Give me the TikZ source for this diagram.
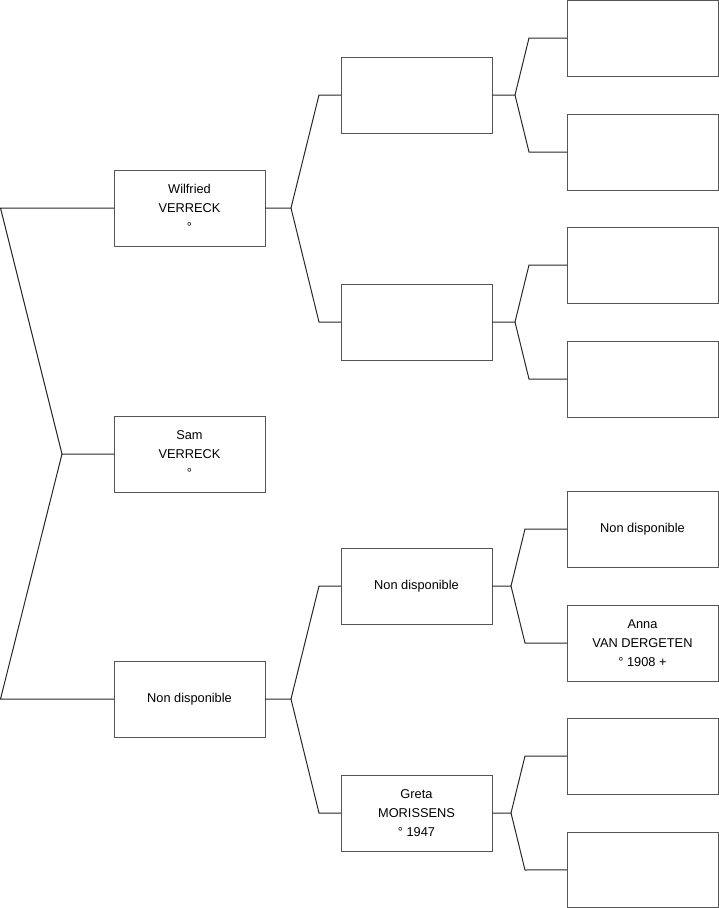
\documentclass[tikz,border=0pt]{standalone}
\usepackage{fontspec}
\setmainfont{Liberation Sans}
\definecolor{boxgray}{RGB}{85,85,85}
\definecolor{linegray}{RGB}{40,40,40}
\begin{document}
\begin{tikzpicture}[x=1pt,y=-1pt,
  person/.style={draw=boxgray, line width=1pt, minimum width=151pt, minimum height=76pt,
    anchor=north west, inner sep=0pt, outer sep=0pt, align=center,
    font=\fontsize{12.8}{19}\selectfont},
  link/.style={draw=linegray, line width=1pt, line join=miter}]
\useasboundingbox (0,0) rectangle (719,908);
% generation 1
\node[person] (wil) at (114,170) {Wilfried\\VERRECK\\°};
\node[person] (sam) at (114,416) {Sam\\VERRECK\\°};
\node[person] (mum) at (114,661) {Non disponible};
% generation 2
\node[person] (a1) at (341,57) {};
\node[person] (a2) at (341,284) {};
\node[person] (a3) at (341,548) {Non disponible};
\node[person] (a4) at (341,775) {Greta\\MORISSENS\\° 1947};
% generation 3
\node[person, minimum height=75.5pt] (b1) at (567,0.5) {};
\node[person] (b2) at (567,114) {};
\node[person] (b3) at (567,227) {};
\node[person] (b4) at (567,341) {};
\node[person] (b5) at (567,491) {Non disponible};
\node[person] (b6) at (567,605) {Anna\\VAN DERGETEN\\° 1908 +};
\node[person] (b7) at (567,718) {};
\node[person, minimum height=75.5pt] (b8) at (567,832) {};
% junction coordinates
\coordinate (j0) at (62,454);
\coordinate (t0) at (0.5,208);
\coordinate (u0) at (0.5,699);
\coordinate (j1) at (291,208);
\coordinate (j2) at (291,699);
\coordinate (j3) at (515,95);
\coordinate (j4) at (515,322);
\coordinate (j5) at (511,586);
\coordinate (j6) at (511,813);
% connectors
\draw[link] (sam.west) -- (j0) -- (t0) -- (wil.west);
\draw[link] (j0) -- (u0) -- (mum.west);
\draw[link] (wil.east) -- (j1) -- (319,95) -- (a1.west);
\draw[link] (j1) -- (319,322) -- (a2.west);
\draw[link] (mum.east) -- (j2) -- (319,586) -- (a3.west);
\draw[link] (j2) -- (319,813) -- (a4.west);
\draw[link] (a1.east) -- (j3) -- (529,38) -- (b1.west);
\draw[link] (j3) -- (529,152) -- (b2.west);
\draw[link] (a2.east) -- (j4) -- (529,265) -- (b3.west);
\draw[link] (j4) -- (529,379) -- (b4.west);
\draw[link] (a3.east) -- (j5) -- (525,529) -- (b5.west);
\draw[link] (j5) -- (525,643) -- (b6.west);
\draw[link] (a4.east) -- (j6) -- (525,756) -- (b7.west);
\draw[link] (j6) -- (525,870) -- (b8.west);
\end{tikzpicture}
\end{document}
